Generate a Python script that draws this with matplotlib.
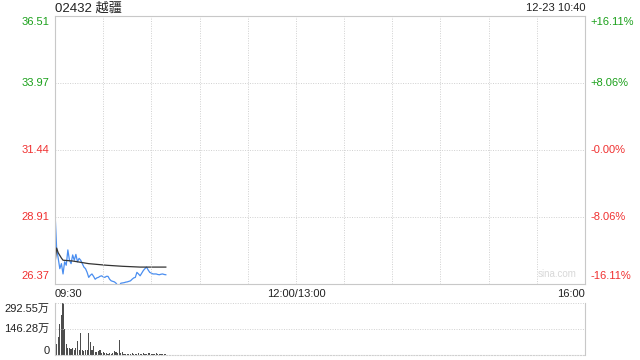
import matplotlib
matplotlib.use("Agg")
import matplotlib.pyplot as plt

plt.rcParams['font.family'] = ['Liberation Sans', 'Noto Sans CJK SC', 'DejaVu Sans']

# stock header
title = "02432 越疆"
stamp = "12-23 10:40"

# price axis
prev_close = 31.44
price_ticks = [26.37, 28.91, 31.44, 33.97, 36.51]
pct_labels = ["-16.11%", "-8.06%", "-0.00%", "+8.06%", "+16.11%"]
time_labels = ["09:30", "12:00/13:00", "16:00"]

# minute prices from 09:30
price = [29.10, 27.73, 27.34, 26.95, 27.14, 26.75, 27.21, 27.08, 27.66, 27.27,
         27.14, 27.47, 27.27, 27.49, 27.21, 27.34, 27.27, 27.14, 27.01, 26.95,
         26.81, 26.62, 26.70, 26.75, 26.66, 26.55, 26.60, 26.62, 26.66, 26.68,
         26.64, 26.62, 26.66, 26.66, 26.55, 26.49, 26.47, 26.45, 26.40, 26.32,
         26.30, 26.40, 26.41, 26.42, 26.44, 26.45, 26.47, 26.49, 26.55, 26.60,
         26.62, 26.81, 26.75, 26.68, 26.78, 26.88, 26.95, 27.01, 26.90, 26.81,
         26.78, 26.75, 26.75, 26.75, 26.73, 26.72, 26.74, 26.75, 26.73, 26.72]

# average price line
avg_min = [0, 1, 2, 3, 4, 5, 11, 21, 32, 42, 53, 69]
avg_val = [27.14, 27.73, 27.55, 27.45, 27.35, 27.27, 27.24, 27.14, 27.08, 27.04, 27.01, 27.01]

# volume per minute (万)
volume = [182, 60, 102, 172, 226, 292, 146, 62, 42, 38,
          32, 42, 26, 42, 78, 30, 122, 26, 24, 28,
          30, 122, 72, 26, 52, 18, 18, 20, 30, 12,
          16, 12, 12, 6, 12, 6, 12, 20, 16, 14,
          82, 12, 16, 8, 6, 5, 8, 6, 10, 8,
          6, 8, 10, 7, 8, 10, 6, 8, 9, 10,
          7, 8, 6, 9, 7, 5, 6, 4, 5, 4]
vol_ticks = [0, 146.28, 292.55]
vol_labels = ["0", "146.28万", "292.55万"]

green = "#1aa01a"
red = "#f03030"
grid_c = "#d0d0d0"
border_c = "#c8c8c8"
text_c = "#222222"

fig = plt.figure(figsize=(6.4, 3.6), dpi=100)
ax = fig.add_axes([55 / 640, 76 / 360, 530 / 640, 268 / 360])
axv = fig.add_axes([55 / 640, 5 / 360, 530 / 640, 52 / 360])

total = 330
minutes = list(range(len(price)))

# main panel
ax.plot(minutes, price, color="#4a8ef0", lw=0.9)
ax.plot(avg_min, avg_val, color="#333333", lw=0.9)
ax.set_xlim(0, total)
ax.set_ylim(price_ticks[0], price_ticks[-1])
ax.set_xticks([])
ax.set_yticks([])
for m in range(30, total, 30):
    ax.axvline(m, color=grid_c, lw=0.7, ls=(0, (1, 1.5)))
for p in price_ticks[1:-1]:
    ax.axhline(p, color=grid_c, lw=0.7, ls=(0, (1, 1.5)))
for s in ax.spines.values():
    s.set_color(border_c)
    s.set_linewidth(0.8)

# price labels both sides
for i, (p, lab) in enumerate(zip(price_ticks, pct_labels)):
    c = green if p > prev_close else red
    off = 0
    if i == 0:
        off = 6
    elif i == len(price_ticks) - 1:
        off = -4
    ax.annotate(f"{p:.2f}", (0, p), xycoords=("axes fraction", "data"),
                xytext=(-4, off), textcoords="offset points", ha="right", va="center",
                color=c, fontsize=8)
    ax.annotate(lab, (1, p), xycoords=("axes fraction", "data"),
                xytext=(4, off), textcoords="offset points", ha="left", va="center",
                color=c, fontsize=8)

ax.text(0.985, 0.02, "sina.com", transform=ax.transAxes, ha="right", va="bottom",
        color="#d8d8d8", fontsize=7)

# time labels
ax.text(0, -0.02, time_labels[0], transform=ax.transAxes, ha="left", va="top",
        color=text_c, fontsize=8)
ax.text(150 / total, -0.02, time_labels[1], transform=ax.transAxes, ha="center", va="top",
        color=text_c, fontsize=8)
ax.text(1, -0.02, time_labels[2], transform=ax.transAxes, ha="right", va="top",
        color=text_c, fontsize=8)

# header
fig.text(55 / 640, 1 - 2 / 360, title, ha="left", va="top", color=text_c, fontsize=9.5)
fig.text(585 / 640, 1 - 3 / 360, stamp, ha="right", va="top", color=text_c, fontsize=8)

# volume panel
axv.bar(minutes, volume, width=0.7, color="#4d4d4d")
axv.set_xlim(0, total)
axv.set_ylim(0, vol_ticks[-1])
axv.set_xticks([])
axv.set_yticks([])
for v in vol_ticks[1:]:
    axv.axhline(v, color=grid_c, lw=0.7, ls=(0, (1, 1.5)))
axv.spines["top"].set_visible(False)
axv.spines["bottom"].set_color(grid_c)
axv.spines["bottom"].set_linestyle((0, (1, 1.5)))
for k in ("left", "right"):
    axv.spines[k].set_color(border_c)
    axv.spines[k].set_linewidth(0.8)
for i, (v, lab) in enumerate(zip(vol_ticks, vol_labels)):
    off = 0
    if i == 0:
        off = 3
    elif i == len(vol_ticks) - 1:
        off = -4
    axv.annotate(lab, (0, v), xycoords=("axes fraction", "data"),
                 xytext=(-4, off), textcoords="offset points", ha="right", va="center",
                 color=text_c, fontsize=8)

fig.savefig("out.png", dpi=100)
